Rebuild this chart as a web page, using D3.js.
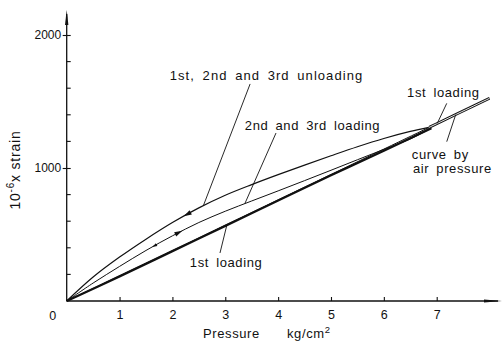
<!DOCTYPE html>
<html>
<head>
<meta charset="utf-8">
<script src="https://cdn.jsdelivr.net/npm/d3@7"></script>
<style>
  html, body { margin: 0; padding: 0; background: #fff; }
  svg { display: block; }
  text { font-family: "Liberation Sans", Arial, sans-serif; fill: #111; }
</style>
</head>
<body>
<svg id="chart" width="503" height="341"></svg>
<script>
// Axis ticks
const pressureTicks = [1, 2, 3, 4, 5, 6, 7];
const strainMajor = [1000, 2000];
const strainMinor = [200, 400, 600, 800, 1200, 1400, 1600, 1800];

// Strain (10^-6) against pressure (kg/cm^2)
const unloadP = [0, 0.5, 1, 1.5, 2, 2.5, 3, 3.5, 4, 4.5, 5, 5.5, 6, 6.5, 6.85];
const unloadS = [0, 180, 330, 465, 590, 700, 795, 875, 950, 1022, 1092, 1160, 1222, 1275, 1305];

const reloadP = [0, 0.5, 1, 1.5, 2, 2.5, 3, 3.5, 4, 4.5, 5, 5.5, 6, 6.5, 6.85];
const reloadS = [0, 135, 260, 380, 490, 590, 675, 752, 828, 905, 983, 1062, 1140, 1218, 1290];

const firstP = [0, 1, 2, 3, 4, 5, 6, 6.9];
const firstS = [0, 185, 375, 565, 755, 945, 1130, 1300];

const airP = [0, 2, 4, 6, 7, 8];
const airS = [0, 378, 760, 1142, 1333, 1524];

const svg = d3.select("#chart");
const x = d3.scaleLinear().domain([0, 7]).range([66.7, 436.7]);
const y = d3.scaleLinear().domain([0, 2000]).range([301, 35]);

const x0 = x(0), y0 = y(0);

// point on a series at pressure p (linear between readings)
function at(P, S, p) {
  let i = 0;
  while (i < P.length - 2 && p > P[i + 1]) i++;
  const t = (p - P[i]) / (P[i + 1] - P[i]);
  return [x(p), y(S[i] + t * (S[i + 1] - S[i]))];
}

const line = (P, S) => d3.line().curve(d3.curveCatmullRom.alpha(0.5))(P.map((p, i) => [x(p), y(S[i])]));

// ---- axes ----
const ax = svg.append("g").attr("stroke", "#111").attr("fill", "#111");
ax.append("line").attr("x1", x0).attr("y1", y0).attr("x2", x0).attr("y2", 14).attr("stroke-width", 1.3);
ax.append("path").attr("d", `M${x0},10 L${x0 - 1.7},25 L${x0 + 1.7},25 Z`).attr("stroke", "none");
ax.append("line").attr("x1", x0).attr("y1", y0).attr("x2", 498).attr("y2", y0).attr("stroke-width", 1.3);
ax.append("path").attr("d", `M502,${y0} L484,${y0 - 1.6} L484,${y0 + 1.6} Z`).attr("stroke", "none");

// x ticks
const xa = svg.append("g").attr("transform", `translate(0,${y0})`)
  .call(d3.axisBottom(x).tickValues(pressureTicks).tickSize(-4).tickSizeOuter(0).tickPadding(9).tickFormat(d3.format("d")));
xa.select(".domain").remove();
xa.selectAll(".tick line").attr("stroke", "#111").attr("stroke-width", 1.1);
xa.selectAll(".tick text").attr("font-size", 12.5).attr("font-family", null).attr("fill", "#111");

// y ticks
const ya = svg.append("g").attr("transform", `translate(${x0},0)`)
  .call(d3.axisLeft(y).tickValues(strainMajor).tickSize(4).tickSizeOuter(0).tickPadding(1.5).tickFormat(d3.format("d")));
ya.select(".domain").remove();
ya.selectAll(".tick line").attr("stroke", "#111").attr("stroke-width", 1.1).attr("x2", -4).attr("x1", 4);
ya.selectAll(".tick text").attr("font-size", 12).attr("font-family", null).attr("fill", "#111");
svg.append("g").selectAll("line").data(strainMinor).join("line")
  .attr("x1", x0).attr("x2", x0 + 4).attr("y1", d => y(d)).attr("y2", d => y(d))
  .attr("stroke", "#111").attr("stroke-width", 1.1);

svg.append("text").attr("x", x0 - 14).attr("y", y0 + 18.5).attr("text-anchor", "middle")
  .attr("font-size", 12.5).text("0");

// axis titles
const xt = svg.append("text").attr("y", 337.5).attr("font-size", 13).attr("letter-spacing", 0.6);
xt.append("tspan").attr("x", 203).text("Pressure");
xt.append("tspan").attr("x", 287).text("kg/cm");
xt.append("tspan").attr("font-size", 9.5).attr("dy", -5).text("2");

const yt = svg.append("text").attr("transform", "translate(20,170) rotate(-90)")
  .attr("text-anchor", "middle").attr("font-size", 14).attr("letter-spacing", 0.8);
yt.append("tspan").text("10");
yt.append("tspan").attr("font-size", 10).attr("dy", -6).text("-6");
yt.append("tspan").attr("dy", 6).text("x strain");

// ---- curves ----
const curves = svg.append("g").attr("fill", "none").attr("stroke", "#111");
curves.append("path").attr("d", line(unloadP, unloadS)).attr("stroke-width", 1.2);
curves.append("path").attr("d", line(reloadP, reloadS)).attr("stroke-width", 1.0);
curves.append("path").attr("d", line(airP, airS)).attr("stroke-width", 1.0);
curves.append("path").attr("d", line(firstP, firstS)).attr("stroke-width", 2.3);

// air-pressure curve beyond the loading range is drawn as a double line
svg.append("clipPath").attr("id", "ext").append("rect")
  .attr("x", x(6.85)).attr("y", 0).attr("width", 503).attr("height", 341);
const ext = svg.append("g").attr("clip-path", "url(#ext)").attr("fill", "none");
ext.append("path").attr("d", line(airP, airS)).attr("stroke", "#111").attr("stroke-width", 2.8);
ext.append("path").attr("d", line(airP, airS)).attr("stroke", "#fff").attr("stroke-width", 0.9);

// direction arrows on the curves
const arrows = [
  { P: unloadP, S: unloadS, p: 2.28, dir: -1, len: 8, w: 2.4 },
  { P: reloadP, S: reloadS, p: 2.12, dir: 1, len: 8, w: 2.4 },
  { P: reloadP, S: reloadS, p: 1.66, dir: -1, len: 5, w: 1.6 }
];
svg.append("g").selectAll("path").data(arrows).join("path")
  .attr("d", a => {
    const p1 = at(a.P, a.S, a.p - 0.05), p2 = at(a.P, a.S, a.p + 0.05);
    let dx = (p2[0] - p1[0]) * a.dir, dy = (p2[1] - p1[1]) * a.dir;
    const n = Math.hypot(dx, dy); dx /= n; dy /= n;
    const c = at(a.P, a.S, a.p);
    const tip = [c[0] + dx * a.len / 2, c[1] + dy * a.len / 2];
    const bx = c[0] - dx * a.len / 2, by = c[1] - dy * a.len / 2;
    return `M${tip[0]},${tip[1]} L${bx - dy * a.w},${by + dx * a.w} L${bx + dy * a.w},${by - dx * a.w} Z`;
  })
  .attr("fill", "#111");

// ---- annotations ----
const leaders = [
  { from: [3.47, 1632], to: at(unloadP, unloadS, 2.585) },
  { from: [3.96, 1263], to: at(reloadP, reloadS, 3.37) },
  { from: [2.90, 361], to: at(firstP, firstS, 3.03) },
  { from: [7.19, 1486], to: at(airP, airS, 7.01) },
  { from: [7.19, 1198], to: at(airP, airS, 7.36) }
];
svg.append("g").selectAll("line").data(leaders).join("line")
  .attr("x1", d => x(d.from[0])).attr("y1", d => y(d.from[1]))
  .attr("x2", d => d.to[0]).attr("y2", d => d.to[1])
  .attr("stroke", "#111").attr("stroke-width", 0.9);

const labels = [
  { text: "1st, 2nd and 3rd unloading", p: 1.95, s: 1662, len: 193 },
  { text: "2nd and 3rd loading", p: 3.37, s: 1286 },
  { text: "1st loading", p: 6.44, s: 1534 },
  { text: "curve by", p: 6.53, s: 1068 },
  { text: "air pressure", p: 6.55, s: 966 },
  { text: "1st loading", p: 2.33, s: 256 }
];
svg.append("g").selectAll("text").data(labels).join("text")
  .attr("x", d => x(d.p)).attr("y", d => y(d.s))
  .attr("font-size", 13).attr("letter-spacing", 0.6).attr("word-spacing", 3)
  .attr("textLength", d => d.len || null)
  .attr("lengthAdjust", d => d.len ? "spacing" : null)
  .text(d => d.text);
</script>
</body>
</html>
